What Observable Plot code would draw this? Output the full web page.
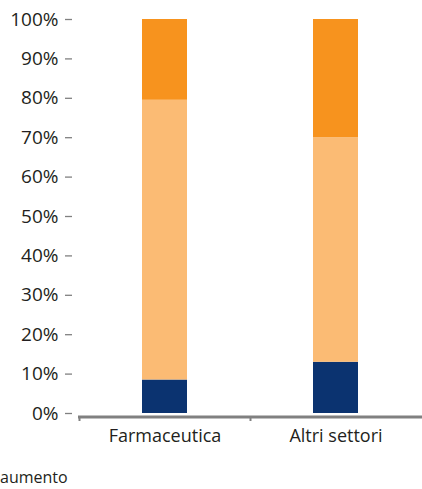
<!DOCTYPE html>
<html><head><meta charset="utf-8">
<script src="https://cdn.jsdelivr.net/npm/d3@7"></script>
<script src="https://cdn.jsdelivr.net/npm/@observablehq/plot@0.6"></script>
<style>
body{margin:0;background:#fff;font-family:"Open Sans",sans-serif;overflow:hidden;}
#wrap{position:relative;width:422px;height:489px;}
#legend{position:absolute;left:0px;top:466px;font-size:16px;color:#231f20;white-space:nowrap;}
</style></head>
<body><div id="wrap"><div id="chart"></div><div id="legend">aumento</div></div>
<script>
const categories = ["Farmaceutica", "Altri settori"];
const series = ["diminuzione", "invariato", "aumento"];
const valDiminuzione = [8.5, 13];
const valInvariato = [71, 57];
const valAumento = [20.5, 30];
const colors = ["#0b3370", "#fbbb74", "#f7931e"];
const yTicks = [0,10,20,30,40,50,60,70,80,90,100];

const rows = [];
categories.forEach((c, i) => {
  rows.push({cat: c, s: series[0], v: valDiminuzione[i]});
  rows.push({cat: c, s: series[1], v: valInvariato[i]});
  rows.push({cat: c, s: series[2], v: valAumento[i]});
});

const W = 422, H = 460, mL = 79, mR = 1, mT = 19, mB = 47;
const step = (W - mL - mR) / categories.length;

const chart = Plot.plot({
  width: W, height: H,
  marginLeft: mL, marginRight: mR, marginTop: mT, marginBottom: mB,
  style: {fontFamily: "Open Sans", color: "#231f20", overflow: "visible"},
  x: {domain: categories, paddingInner: 0.737, paddingOuter: 0.3685, label: null},
  y: {domain: [0, 100], label: null},
  color: {domain: series, range: colors},
  marks: [
    Plot.barY(rows, Plot.stackY({x: "cat", y: "v", fill: "s", order: series})),
    Plot.axisY({ticks: yTicks, tickFormat: d => d + "%", tickSize: 7, tickPadding: 7, dx: -7,
      stroke: "#808080", strokeWidth: 1.3, fill: "#231f20", fontSize: "19px", label: null}),
    Plot.ruleY([0], {stroke: "#808080", strokeWidth: 3, dy: 3.5, insetLeft: -1, insetRight: -2}),
    Plot.ruleX(categories, {x: d => d, y1: 0, y2: 0, dx: -step/2, insetTop: 3, insetBottom: -8, stroke: "#808080", strokeWidth: 2}),
    Plot.axisX({tickSize: 0, tickPadding: 16, fontSize: "18px", fill: "#231f20", label: null})
  ]
});
document.getElementById("chart").appendChild(chart);
</script></body></html>
